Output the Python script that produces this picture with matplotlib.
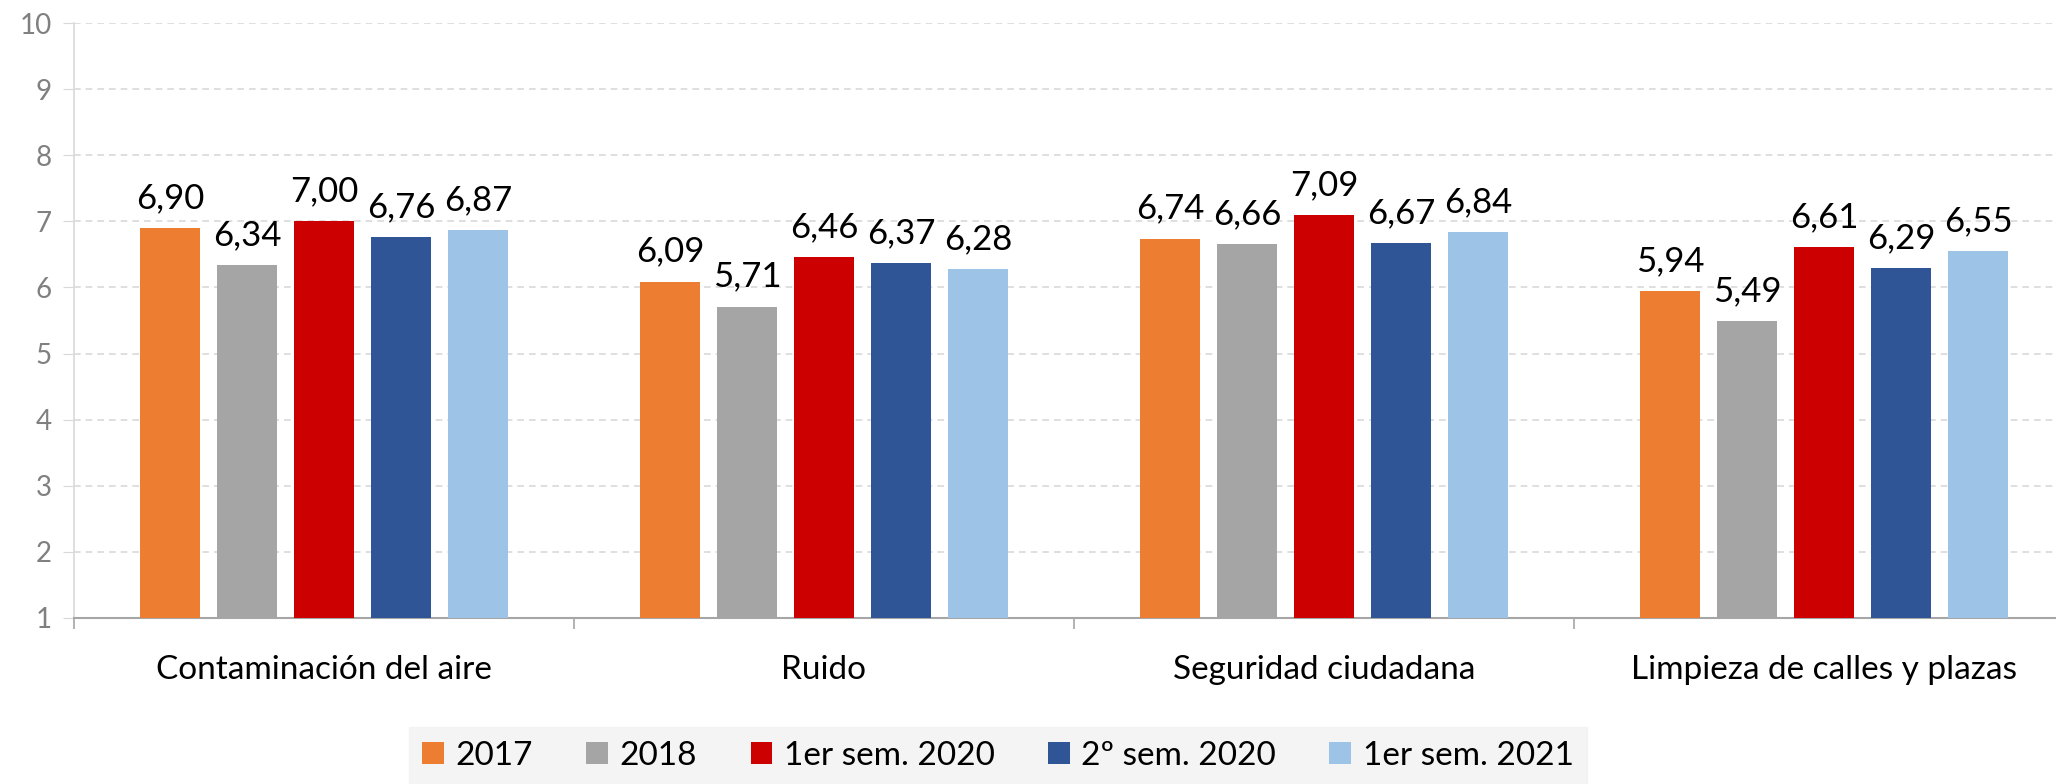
import matplotlib
matplotlib.use("Agg")
import matplotlib.pyplot as plt
import numpy as np

categories = ["Contaminación del aire", "Ruido", "Seguridad ciudadana", "Limpieza de calles y plazas"]
series_names = ["2017", "2018", "1er sem. 2020", "2º sem. 2020", "1er sem. 2021"]
v2017 = [6.90, 6.09, 6.74, 5.94]
v2018 = [6.34, 5.71, 6.66, 5.49]
v2020a = [7.00, 6.46, 7.09, 6.61]
v2020b = [6.76, 6.37, 6.67, 6.29]
v2021 = [6.87, 6.28, 6.84, 6.55]
series_values = [v2017, v2018, v2020a, v2020b, v2021]
colors = ["#ED7D31", "#A5A5A5", "#CC0000", "#2F5597", "#9DC3E6"]
yticks = [1, 2, 3, 4, 5, 6, 7, 8, 9, 10]

plt.rcParams['font.family'] = ['Lato', 'DejaVu Sans']

W, H = 2056, 784
fig = plt.figure(figsize=(W / 100, H / 100), dpi=100)
left, right = 74, 2074
top, bottom = 23.3, 617.7
ax = fig.add_axes([left / W, 1 - bottom / H, (right - left) / W, (bottom - top) / H])

x = np.arange(len(categories))
bw = 0.12
step = 0.154
for i, (name, vals, c) in enumerate(zip(series_names, series_values, colors)):
    pos = x + (i - 2) * step
    base = [v - 1 for v in vals]
    ax.bar(pos, base, bottom=1, width=bw, color=c, label=name, zorder=3)
    for p, v in zip(pos, vals):
        ax.annotate(f"{v:.2f}".replace(".", ","), (p, v), xytext=(0, 10),
                    textcoords="offset points", ha="center", va="bottom",
                    fontsize=25, color="black", zorder=4)

ax.set_xlim(-0.5, len(categories) - 0.5)
ax.set_ylim(1, 10)
ax.set_yticks(yticks)
ax.set_yticklabels([str(t) for t in yticks], fontsize=20, color="#808080")
ax.yaxis.grid(True, linestyle=(0, (4, 3)), color="#D9D9D9", linewidth=1.2, zorder=0)
ax.tick_params(axis="y", length=8, color="#D9D9D9", pad=8)

ax.set_xticks(x)
ax.set_xticklabels(categories, fontsize=24, color="black")
ax.set_xticks(np.arange(len(categories) + 1) - 0.5, minor=True)
ax.tick_params(axis="x", which="major", length=0, pad=27)
ax.tick_params(axis="x", which="minor", length=8, color="#A6A6A6", width=1.2)

for s in ["top", "right"]:
    ax.spines[s].set_visible(False)
ax.spines["left"].set_color("#D9D9D9")
ax.spines["left"].set_linewidth(1.2)
ax.spines["bottom"].set_color("#A6A6A6")
ax.spines["bottom"].set_linewidth(1.5)
ax.set_axisbelow(True)

leg = fig.legend(loc="lower center", bbox_to_anchor=(998 / W, 0.0), ncol=5,
                 fontsize=24, frameon=True, fancybox=False,
                 handlelength=0.65, handleheight=0.65, handletextpad=0.35,
                 columnspacing=1.6, borderpad=0.4, borderaxespad=0.0)
leg.get_frame().set_facecolor("#F2F2F2")
leg.get_frame().set_edgecolor("#F2F2F2")

fig.savefig("out.png", dpi=100)
